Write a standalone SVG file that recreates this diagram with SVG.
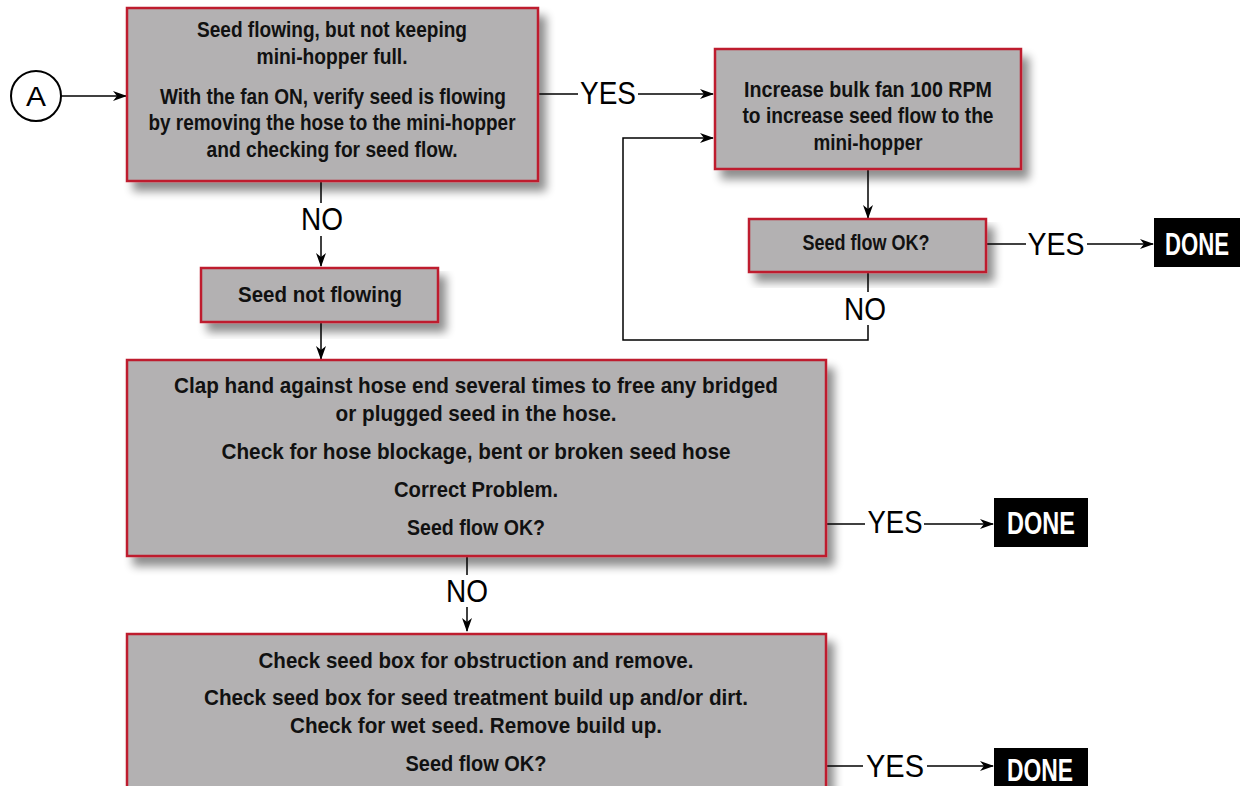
<svg xmlns="http://www.w3.org/2000/svg" width="1246" height="786" viewBox="0 0 1246 786">
<defs>
<filter id="sh" x="-10%" y="-10%" width="130%" height="140%">
<feGaussianBlur in="SourceAlpha" stdDeviation="5"/>
<feOffset dx="7" dy="9" result="b"/>
<feComponentTransfer><feFuncA type="linear" slope="0.45"/></feComponentTransfer>
<feMerge><feMergeNode/><feMergeNode in="SourceGraphic"/></feMerge>
</filter>
<marker id="ah" viewBox="0 0 14 10" refX="13" refY="5" markerWidth="14" markerHeight="10" markerUnits="userSpaceOnUse" orient="auto">
<path d="M0,0 L14,5 L0,10 L4,5 Z" fill="#000"/>
</marker>
</defs>
<style>
.box{fill:#b3b1b2;stroke:#be1e2d;stroke-width:2.5;filter:url(#sh)}
.t{font-family:"Liberation Sans",Arial,sans-serif;font-weight:bold;font-size:22px;fill:#111;text-anchor:middle}
.lbl{font-family:"Liberation Sans",Arial,sans-serif;font-size:31px;fill:#000;text-anchor:middle}
.done{fill:#000}
.dt{font-family:"Liberation Sans",Arial,sans-serif;font-weight:bold;font-size:31px;fill:#fff;text-anchor:middle}
.c{fill:none;stroke:#000;stroke-width:1.5}
.ca{fill:none;stroke:#000;stroke-width:1.5;marker-end:url(#ah)}
</style>
<rect width="1246" height="786" fill="#fff"/>

<g id="connectors">
<line class="ca" x1="61" y1="96" x2="126" y2="96"/>
<line class="c" x1="539" y1="94" x2="578" y2="94"/>
<line class="ca" x1="638" y1="94" x2="713" y2="94"/>
<line class="ca" x1="868" y1="170" x2="868" y2="218"/>
<line class="c" x1="987" y1="244" x2="1026" y2="244"/>
<line class="ca" x1="1087" y1="244" x2="1153" y2="244"/>
<line class="c" x1="868" y1="273" x2="868" y2="292"/>
<polyline class="ca" points="868,325 868,340 623,340 623,138 713,138"/>
<line class="c" x1="321" y1="182" x2="321" y2="203"/>
<line class="ca" x1="321" y1="236" x2="321" y2="266"/>
<line class="ca" x1="321" y1="323" x2="321" y2="359"/>
<line class="c" x1="827" y1="524" x2="865" y2="524"/>
<line class="ca" x1="924" y1="524" x2="993" y2="524"/>
<line class="c" x1="467" y1="557" x2="467" y2="575"/>
<line class="ca" x1="467" y1="607" x2="467" y2="631"/>
<line class="c" x1="827" y1="766" x2="863" y2="766"/>
<line class="ca" x1="927" y1="766" x2="993" y2="766"/>
<text class="lbl" x="608" y="104" textLength="56" lengthAdjust="spacingAndGlyphs">YES</text>
<text class="lbl" x="1056" y="255" textLength="57" lengthAdjust="spacingAndGlyphs">YES</text>
<text class="lbl" x="895" y="533" textLength="55" lengthAdjust="spacingAndGlyphs">YES</text>
<text class="lbl" x="895" y="777" textLength="58" lengthAdjust="spacingAndGlyphs">YES</text>
<text class="lbl" x="322" y="230" textLength="42" lengthAdjust="spacingAndGlyphs">NO</text>
<text class="lbl" x="865" y="320" textLength="42" lengthAdjust="spacingAndGlyphs">NO</text>
<text class="lbl" x="467" y="602" textLength="42" lengthAdjust="spacingAndGlyphs">NO</text>
</g>

<g id="nodeA">
<circle cx="36" cy="96" r="25" fill="#fff" stroke="#000" stroke-width="2"/>
<text x="36" y="106" font-family="Liberation Sans,Arial,sans-serif" font-size="28" text-anchor="middle" textLength="20" lengthAdjust="spacingAndGlyphs">A</text>
</g>

<g id="box1">
<rect class="box" x="127" y="8" width="411" height="173"/>
<text class="t" x="332" y="37" textLength="270" lengthAdjust="spacingAndGlyphs">Seed flowing, but not keeping</text>
<text class="t" x="332" y="64" textLength="151" lengthAdjust="spacingAndGlyphs">mini-hopper full.</text>
<text class="t" x="333" y="104" textLength="346" lengthAdjust="spacingAndGlyphs">With the fan ON, verify seed is flowing</text>
<text class="t" x="332" y="130" textLength="367" lengthAdjust="spacingAndGlyphs">by removing the hose to the mini-hopper</text>
<text class="t" x="332" y="157" textLength="251" lengthAdjust="spacingAndGlyphs">and checking for seed flow.</text>
</g>

<g id="box2">
<rect class="box" x="715" y="49" width="306" height="120"/>
<text class="t" x="868" y="97" textLength="248" lengthAdjust="spacingAndGlyphs">Increase bulk fan 100 RPM</text>
<text class="t" x="868" y="123" textLength="251" lengthAdjust="spacingAndGlyphs">to increase seed flow to the</text>
<text class="t" x="868" y="150" textLength="109" lengthAdjust="spacingAndGlyphs">mini-hopper</text>
</g>

<g id="box3">
<rect class="box" x="749" y="219" width="237" height="53"/>
<text class="t" x="866" y="250" textLength="127" lengthAdjust="spacingAndGlyphs">Seed flow OK?</text>
</g>

<g id="done1">
<rect class="done" x="1154" y="218" width="86" height="49"/>
<text class="dt" x="1197" y="255" textLength="64" lengthAdjust="spacingAndGlyphs">DONE</text>
</g>

<g id="box4">
<rect class="box" x="201" y="268" width="237" height="54"/>
<text class="t" x="320" y="302" textLength="164" lengthAdjust="spacingAndGlyphs">Seed not flowing</text>
</g>

<g id="box5">
<rect class="box" x="127" y="360" width="699" height="196"/>
<text class="t" x="476" y="393" textLength="604" lengthAdjust="spacingAndGlyphs">Clap hand against hose end several times to free any bridged</text>
<text class="t" x="476" y="421" textLength="281" lengthAdjust="spacingAndGlyphs">or plugged seed in the hose.</text>
<text class="t" x="476" y="459" textLength="509" lengthAdjust="spacingAndGlyphs">Check for hose blockage, bent or broken seed hose</text>
<text class="t" x="476" y="497" textLength="164" lengthAdjust="spacingAndGlyphs">Correct Problem.</text>
<text class="t" x="476" y="535" textLength="138" lengthAdjust="spacingAndGlyphs">Seed flow OK?</text>
</g>

<g id="done2">
<rect class="done" x="994" y="498" width="94" height="49"/>
<text class="dt" x="1041" y="534" textLength="68" lengthAdjust="spacingAndGlyphs">DONE</text>
</g>

<g id="box6">
<rect class="box" x="127" y="634" width="699" height="160"/>
<text class="t" x="476" y="668" textLength="435" lengthAdjust="spacingAndGlyphs">Check seed box for obstruction and remove.</text>
<text class="t" x="476" y="705" textLength="544" lengthAdjust="spacingAndGlyphs">Check seed box for seed treatment build up and/or dirt.</text>
<text class="t" x="476" y="733" textLength="372" lengthAdjust="spacingAndGlyphs">Check for wet seed. Remove build up.</text>
<text class="t" x="476" y="771" textLength="141" lengthAdjust="spacingAndGlyphs">Seed flow OK?</text>
</g>

<g id="done3">
<rect class="done" x="994" y="748" width="94" height="45"/>
<text class="dt" x="1040" y="781" textLength="66" lengthAdjust="spacingAndGlyphs">DONE</text>
</g>
</svg>
